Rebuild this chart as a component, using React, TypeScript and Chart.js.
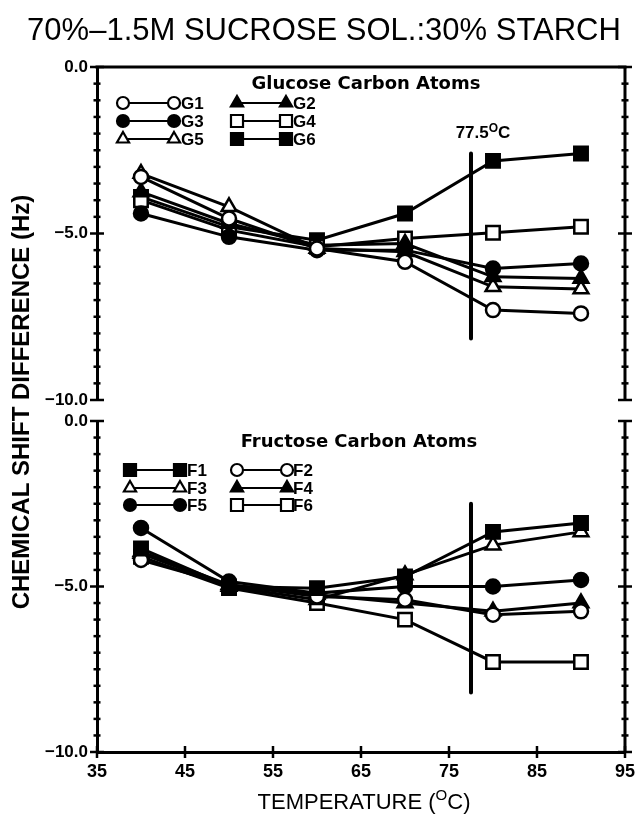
import React, { useEffect, useRef } from 'react';
import { Chart, registerables } from 'chart.js';

Chart.register(...registerables);

// ---- data ----
const TEMPS = [40, 50, 60, 70, 80, 90];

const G1 = [-3.3, -4.55, -5.45, -5.85, -7.3, -7.4];
const G2 = [-3.75, -4.7, -5.35, -5.3, -6.3, -6.35];
const G3 = [-4.4, -5.1, -5.5, -5.5, -6.05, -5.9];
const G4 = [-4.0, -4.9, -5.4, -5.15, -4.98, -4.8];
const G5 = [-3.2, -4.2, -5.45, -5.55, -6.6, -6.67];
const G6 = [-3.9, -4.8, -5.2, -4.4, -2.82, -2.6];

const F1 = [-3.85, -5.0, -5.05, -4.7, -3.35, -3.08];
const F2 = [-4.2, -4.95, -5.3, -5.4, -5.85, -5.75];
const F3 = [-4.0, -5.0, -5.4, -4.65, -3.75, -3.35];
const F4 = [-3.95, -4.95, -5.25, -5.5, -5.75, -5.5];
const F5 = [-3.23, -4.85, -5.2, -5.0, -5.0, -4.8];
const F6 = [-4.1, -5.05, -5.5, -6.0, -7.28, -7.28];

const X_TICKS = [35, 45, 55, 65, 75, 85, 95];
const Y_MAJOR = [0, -5, -10];
const Y_MINOR_STEP = 0.5;
const TRANSITION_T = 77.5;
const TRANSITION_TOP = [-2.6, -8.15];
const TRANSITION_BOT = [-2.5, -8.2];

const TITLE = '70%–1.5M SUCROSE SOL.:30% STARCH';
const Y_TITLE = 'CHEMICAL SHIFT DIFFERENCE (Hz)';
const GLU_TITLE = 'Glucose Carbon Atoms';
const FRU_TITLE = 'Fructose Carbon Atoms';

type Shape = 'circle' | 'triangle' | 'rect';
interface Series { label: string; data: number[]; shape: Shape; filled: boolean }

const GLUCOSE: Series[] = [
  { label: 'G1', data: G1, shape: 'circle', filled: false },
  { label: 'G2', data: G2, shape: 'triangle', filled: true },
  { label: 'G3', data: G3, shape: 'circle', filled: true },
  { label: 'G4', data: G4, shape: 'rect', filled: false },
  { label: 'G5', data: G5, shape: 'triangle', filled: false },
  { label: 'G6', data: G6, shape: 'rect', filled: true },
];
const FRUCTOSE: Series[] = [
  { label: 'F1', data: F1, shape: 'rect', filled: true },
  { label: 'F2', data: F2, shape: 'circle', filled: false },
  { label: 'F3', data: F3, shape: 'triangle', filled: false },
  { label: 'F4', data: F4, shape: 'triangle', filled: true },
  { label: 'F5', data: F5, shape: 'circle', filled: true },
  { label: 'F6', data: F6, shape: 'rect', filled: false },
];

const BOLD = '"Liberation Sans", Arial, sans-serif';

function radiusFor(shape: Shape) {
  return shape === 'rect' ? 9.5 : shape === 'triangle' ? 8.5 : 7;
}

function toDataset(s: Series, axis: string) {
  return {
    label: s.label,
    data: TEMPS.map((t, i) => ({ x: t, y: s.data[i] })),
    yAxisID: axis,
    borderColor: '#000',
    borderWidth: 3,
    pointStyle: s.shape,
    pointRadius: radiusFor(s.shape),
    pointBackgroundColor: s.filled ? '#000' : '#fff',
    pointBorderColor: '#000',
    pointBorderWidth: 2.5,
    tension: 0,
    fill: false,
  };
}

function drawMarker(ctx: CanvasRenderingContext2D, shape: Shape, filled: boolean, x: number, y: number, r: number) {
  ctx.beginPath();
  if (shape === 'circle') {
    ctx.arc(x, y, r, 0, Math.PI * 2);
  } else if (shape === 'rect') {
    const s = r * Math.SQRT1_2;
    ctx.rect(x - s, y - s, 2 * s, 2 * s);
  } else {
    ctx.moveTo(x, y - r);
    ctx.lineTo(x + Math.sin((2 * Math.PI) / 3) * r, y - Math.cos((2 * Math.PI) / 3) * r);
    ctx.lineTo(x + Math.sin((4 * Math.PI) / 3) * r, y - Math.cos((4 * Math.PI) / 3) * r);
    ctx.closePath();
  }
  ctx.fillStyle = filled ? '#000' : '#fff';
  ctx.fill();
  ctx.lineWidth = 2.2;
  ctx.strokeStyle = '#000';
  ctx.stroke();
}

function drawLegend(ctx: CanvasRenderingContext2D, series: Series[], title: string, titleX: number, titleY: number, rows: number[], cols: number[][]) {
  ctx.fillStyle = '#000';
  ctx.font = `bold 18px "DejaVu Sans", sans-serif`;
  ctx.textAlign = 'center';
  ctx.textBaseline = 'middle';
  ctx.fillText(title, titleX, titleY);
  series.forEach((s, i) => {
    const row = rows[Math.floor(i / 2)];
    const [m1, m2, lx] = cols[i % 2];
    ctx.beginPath();
    ctx.moveTo(m1, row);
    ctx.lineTo(m2, row);
    ctx.lineWidth = 2;
    ctx.strokeStyle = '#000';
    ctx.stroke();
    const r = s.shape === 'rect' ? 8.5 : s.shape === 'triangle' ? 7 : 6;
    drawMarker(ctx, s.shape, s.filled, m1, row, r);
    drawMarker(ctx, s.shape, s.filled, m2, row, r);
    ctx.fillStyle = '#000';
    ctx.font = `bold 17px ${BOLD}`;
    ctx.textAlign = 'left';
    ctx.textBaseline = 'middle';
    ctx.fillText(s.label, lx, row + 1);
  });
}

function drawSuperText(ctx: CanvasRenderingContext2D, parts: { t: string; sup?: boolean }[], cx: number, cy: number, font: string, supFont: string, supRise: number) {
  let total = 0;
  parts.forEach((p) => {
    ctx.font = p.sup ? supFont : font;
    total += ctx.measureText(p.t).width;
  });
  let x = cx - total / 2;
  ctx.textAlign = 'left';
  ctx.textBaseline = 'middle';
  ctx.fillStyle = '#000';
  parts.forEach((p) => {
    ctx.font = p.sup ? supFont : font;
    ctx.fillText(p.t, x, p.sup ? cy - supRise : cy);
    x += ctx.measureText(p.t).width;
  });
}

const decorPlugin = {
  id: 'decor',
  afterDraw(chart: any) {
    const ctx: CanvasRenderingContext2D = chart.ctx;
    const { left, right } = chart.chartArea;
    const x = chart.scales.x;
    const panels = [chart.scales.yTop, chart.scales.yBot];
    ctx.save();
    ctx.strokeStyle = '#000';
    ctx.lineCap = 'butt';

    // top border of upper panel
    ctx.lineWidth = 3;
    ctx.beginPath();
    ctx.moveTo(left - 1.5, chart.scales.yTop.getPixelForValue(0));
    ctx.lineTo(right + 1.5, chart.scales.yTop.getPixelForValue(0));
    ctx.stroke();

    panels.forEach((sc: any) => {
      const yT = sc.getPixelForValue(0);
      const yB = sc.getPixelForValue(-10);
      // right axis line
      ctx.lineWidth = 3;
      ctx.beginPath();
      ctx.moveTo(right, yT);
      ctx.lineTo(right, yB);
      ctx.stroke();
      // major ticks (crossing)
      Y_MAJOR.forEach((v) => {
        const py = sc.getPixelForValue(v);
        ctx.lineWidth = 2.5;
        [left, right].forEach((ax) => {
          ctx.beginPath();
          ctx.moveTo(ax - 7, py);
          ctx.lineTo(ax + 7, py);
          ctx.stroke();
        });
      });
      // minor ticks
      for (let v = -Y_MINOR_STEP; v > -10 + 1e-6; v -= Y_MINOR_STEP) {
        if (Y_MAJOR.some((m) => Math.abs(m - v) < 1e-6)) continue;
        const py = sc.getPixelForValue(v);
        ctx.lineWidth = 2.5;
        [left, right].forEach((ax) => {
          ctx.beginPath();
          ctx.moveTo(ax - 3.5, py);
          ctx.lineTo(ax + 3.5, py);
          ctx.stroke();
        });
      }
    });

    // x ticks (crossing)
    const yAxis = chart.scales.yBot.getPixelForValue(-10);
    X_TICKS.forEach((v) => {
      const px = x.getPixelForValue(v);
      ctx.lineWidth = 2.5;
      ctx.beginPath();
      ctx.moveTo(px, yAxis - 6);
      ctx.lineTo(px, yAxis + 6);
      ctx.stroke();
    });

    // titles
    ctx.fillStyle = '#000';
    ctx.font = `31px ${BOLD}`;
    ctx.textAlign = 'center';
    ctx.textBaseline = 'middle';
    ctx.fillText(TITLE, 324, 31);

    ctx.save();
    ctx.translate(22, 402);
    ctx.rotate(-Math.PI / 2);
    ctx.font = `bold 24px ${BOLD}`;
    ctx.textAlign = 'center';
    ctx.textBaseline = 'middle';
    ctx.fillText(Y_TITLE, 0, 0);
    ctx.restore();

    drawSuperText(
      ctx,
      [{ t: 'TEMPERATURE (' }, { t: 'O', sup: true }, { t: 'C)' }],
      364, 803,
      `22px ${BOLD}`, `15px ${BOLD}`, 7,
    );

    // transition label
    const tx = x.getPixelForValue(TRANSITION_T);
    drawSuperText(
      ctx,
      [{ t: '77.5' }, { t: 'O', sup: true }, { t: 'C' }],
      tx + 12, chart.scales.yTop.getPixelForValue(-2.0),
      `bold 17px ${BOLD}`, `bold 12px ${BOLD}`, 5,
    );

    // legends
    drawLegend(ctx, GLUCOSE, GLU_TITLE, 366, 84, [103, 121, 139], [[123, 174, 181], [237, 286, 293]]);
    drawLegend(ctx, FRUCTOSE, FRU_TITLE, 359, 442, [470, 488, 505], [[130, 180, 187], [237, 287, 293]]);

    ctx.restore();
  },
};

export default function App() {
  const ref = useRef<HTMLCanvasElement | null>(null);

  useEffect(() => {
    if (!ref.current) return;
    const datasets: any[] = [
      ...GLUCOSE.map((s) => toDataset(s, 'yTop')),
      ...FRUCTOSE.map((s) => toDataset(s, 'yBot')),
      {
        label: 'transition-top',
        data: TRANSITION_TOP.map((v) => ({ x: TRANSITION_T, y: v })),
        yAxisID: 'yTop',
        borderColor: '#000',
        borderWidth: 4,
        pointRadius: 0,
        borderCapStyle: 'round',
      },
      {
        label: 'transition-bottom',
        data: TRANSITION_BOT.map((v) => ({ x: TRANSITION_T, y: v })),
        yAxisID: 'yBot',
        borderColor: '#000',
        borderWidth: 4,
        pointRadius: 0,
        borderCapStyle: 'round',
      },
    ];

    const yCommon = (weight: number, stackWeight: number) => ({
      type: 'linear',
      position: 'left',
      stack: 'panels',
      stackWeight,
      weight,
      min: -10,
      max: 0,
      grid: { display: false, drawTicks: false },
      border: { display: true, width: 3, color: '#000' },
      afterBuildTicks: (s: any) => {
        s.ticks = Y_MAJOR.map((v) => ({ value: v }));
      },
      afterFit: (s: any) => {
        s.width = 97;
      },
      ticks: {
        autoSkip: false,
        padding: 9,
        color: '#000',
        font: { family: BOLD, weight: 'bold', size: 17 },
        callback: (v: number) => (v === 0 ? '0.0' : '−' + Math.abs(v).toFixed(1)),
      },
    });

    const chart = new Chart(ref.current, {
      type: 'line',
      data: { datasets },
      plugins: [decorPlugin],
      options: {
        responsive: false,
        animation: false,
        devicePixelRatio: 1,
        layout: { padding: { top: 67, left: 0, right: 11, bottom: 28 } },
        plugins: { legend: { display: false }, title: { display: false }, tooltip: { enabled: false } },
        scales: {
          x: {
            type: 'linear',
            position: 'bottom',
            min: 35,
            max: 95,
            grid: { display: false, drawTicks: false },
            border: { display: true, width: 3, color: '#000' },
            afterBuildTicks: (s: any) => {
              s.ticks = X_TICKS.map((v) => ({ value: v }));
            },
            afterFit: (s: any) => {
              s.height = 40;
            },
            ticks: {
              autoSkip: false,
              maxRotation: 0,
              padding: 9,
              color: '#000',
              font: { family: BOLD, weight: 'bold', size: 18 },
            },
          },
          yTop: yCommon(3, 333),
          yGap: {
            type: 'linear',
            position: 'left',
            stack: 'panels',
            stackWeight: 21,
            weight: 2,
            min: 0,
            max: 1,
            grid: { display: false, drawTicks: false },
            border: { display: false },
            ticks: { display: false },
            afterFit: (s: any) => {
              s.width = 97;
            },
          },
          yBot: yCommon(1, 331),
        },
      } as any,
    } as any);
    return () => chart.destroy();
  }, []);

  return (
    <div style={{ position: 'absolute', left: 0, top: 0, width: 644, height: 820, background: '#fff' }}>
      <canvas ref={ref} width={644} height={820} style={{ display: 'block' }} />
    </div>
  );
}
